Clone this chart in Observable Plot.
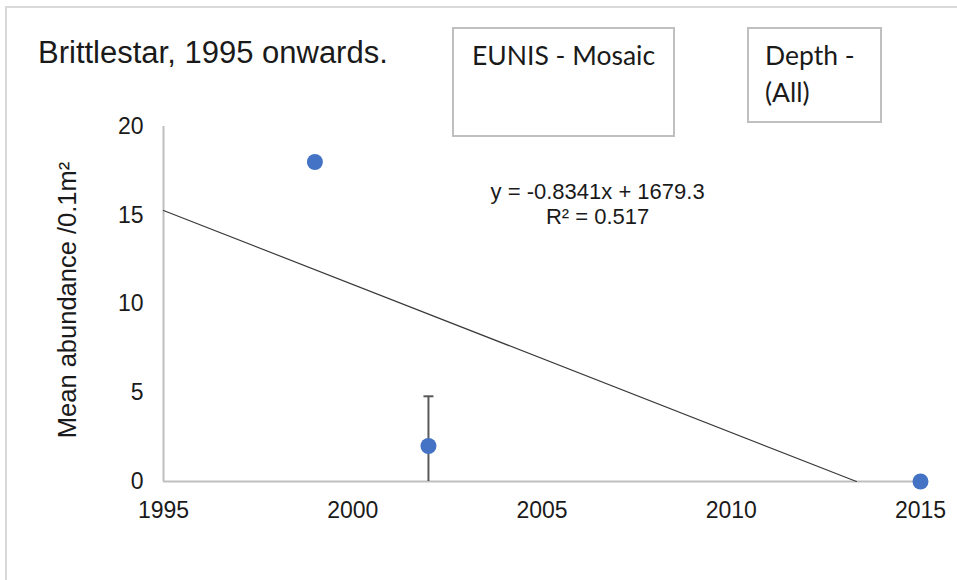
<!DOCTYPE html>
<html>
<head>
<meta charset="utf-8">
<script src="https://cdn.jsdelivr.net/npm/d3@7"></script>
<script src="https://cdn.jsdelivr.net/npm/@observablehq/plot@0.6"></script>
<style>
  html, body { margin: 0; padding: 0; background: #fff; overflow: hidden; }
  #wrap { position: relative; width: 957px; height: 580px; }
  #wrap > svg { position: absolute; left: 0; top: 0; }
  #deco { pointer-events: none; }
</style>
</head>
<body>
<div id="wrap"></div>
<script>
// ---- data ----
const years = [1999, 2002, 2015];
const abundance = [18, 2, 0];
const errYears = [2002];
const errLow = [0];
const errHigh = [4.8];
const xTicks = [1995, 2000, 2005, 2010, 2015];
const yTicks = [0, 5, 10, 15, 20];
const trendSlope = -0.8341;
const trendIntercept = 1679.3;
const rSquared = 0.517;
const titleText = "Brittlestar, 1995 onwards.";
const box1Lines = ["EUNIS - Mosaic"];
const box2Lines = ["Depth -", "(All)"];
const yLabel = "Mean abundance /0.1m²";

// ---- derived tables ----
const points = years.map((y, i) => ({year: y, value: abundance[i]}));
const errs = errYears.map((y, i) => ({year: y, low: errLow[i], high: errHigh[i]}));
const xStart = xTicks[0];
const xZero = -trendIntercept / trendSlope;
const trend = [
  {year: xStart, value: trendSlope * xStart + trendIntercept},
  {year: xZero, value: 0}
];
const eqLines = [`y = ${trendSlope}x + ${trendIntercept}`, `R² = ${rSquared}`];

const sans = "'Liberation Sans', Arial, sans-serif";
const capSymbol = {
  draw(context, size) {
    const r = Math.sqrt(size / Math.PI);
    context.moveTo(-r, 0);
    context.lineTo(r, 0);
  }
};

const chart = Plot.plot({
  width: 957,
  height: 580,
  marginLeft: 163,
  marginRight: 37,
  marginTop: 126,
  marginBottom: 99,
  x: {domain: [1995, 2015]},
  y: {domain: [0, 20]},
  style: {fontFamily: sans, fontSize: "23px", color: "#1a1a1a", background: "transparent"},
  marks: [
    Plot.axisX(xTicks, {tickSize: 0, tickPadding: 20, tickFormat: d => String(d), label: null, fontSize: 23}),
    Plot.axisY(yTicks, {tickSize: 0, tickPadding: 20, label: null, fontSize: 23}),
    Plot.ruleX([xStart], {stroke: "#bfbfbf", strokeWidth: 2}),
    Plot.ruleY([0], {stroke: "#bfbfbf", strokeWidth: 2}),
    Plot.line(trend, {x: "year", y: "value", stroke: "#3a3a3a", strokeWidth: 1.2}),
    Plot.ruleX(errs, {x: "year", y1: "low", y2: "high", stroke: "#595959", strokeWidth: 2}),
    Plot.dot(errs, {x: "year", y: "high", symbol: capSymbol, r: 5, stroke: "#595959", strokeWidth: 2, fill: "none"}),
    Plot.dot(points, {x: "year", y: "value", r: 8, fill: "#4472c4"}),
    Plot.text([eqLines[0]], {x: 2006.47, y: 16.3, text: d => d, fontSize: 22,
      textAnchor: "middle", lineAnchor: "middle", fill: "#1a1a1a"}),
    Plot.text([eqLines[1]], {x: 2006.47, y: 16.3, dy: 25, text: d => d, fontSize: 22,
      textAnchor: "middle", lineAnchor: "middle", fill: "#1a1a1a"}),
    Plot.text([yLabel], {frameAnchor: "left", text: d => d, rotate: -90, dx: -96, dy: -4,
      fontSize: 25.5, textAnchor: "middle", lineAnchor: "middle", fill: "#1a1a1a"})
  ]
});
document.getElementById("wrap").appendChild(chart);

// ---- decoration: outer border, title, info boxes ----
const deco = d3.select("#wrap").append("svg")
  .attr("id", "deco").attr("width", 957).attr("height", 580);
deco.append("path").attr("d", "M6,600 V7 H990")
  .attr("fill", "none").attr("stroke", "#d9d9d9").attr("stroke-width", 2);
deco.append("text").attr("x", 38).attr("y", 63)
  .attr("font-family", sans).attr("font-size", 31).attr("fill", "#1a1a1a").text(titleText);

function box(x, y, w, h, lines, tx) {
  deco.append("rect").attr("x", x).attr("y", y).attr("width", w).attr("height", h)
    .attr("fill", "#fff").attr("stroke", "#bfbfbf").attr("stroke-width", 2);
  lines.forEach((t, i) => {
    deco.append("text").attr("x", tx).attr("y", 65 + i * 37)
      .attr("font-family", "Lato, 'Open Sans', sans-serif").attr("font-size", 26.5)
      .attr("fill", "#1a1a1a").text(t);
  });
}
box(453, 28, 221, 108, box1Lines, 472);
box(748, 28, 133, 94, box2Lines, 765);
</script>
</body>
</html>
